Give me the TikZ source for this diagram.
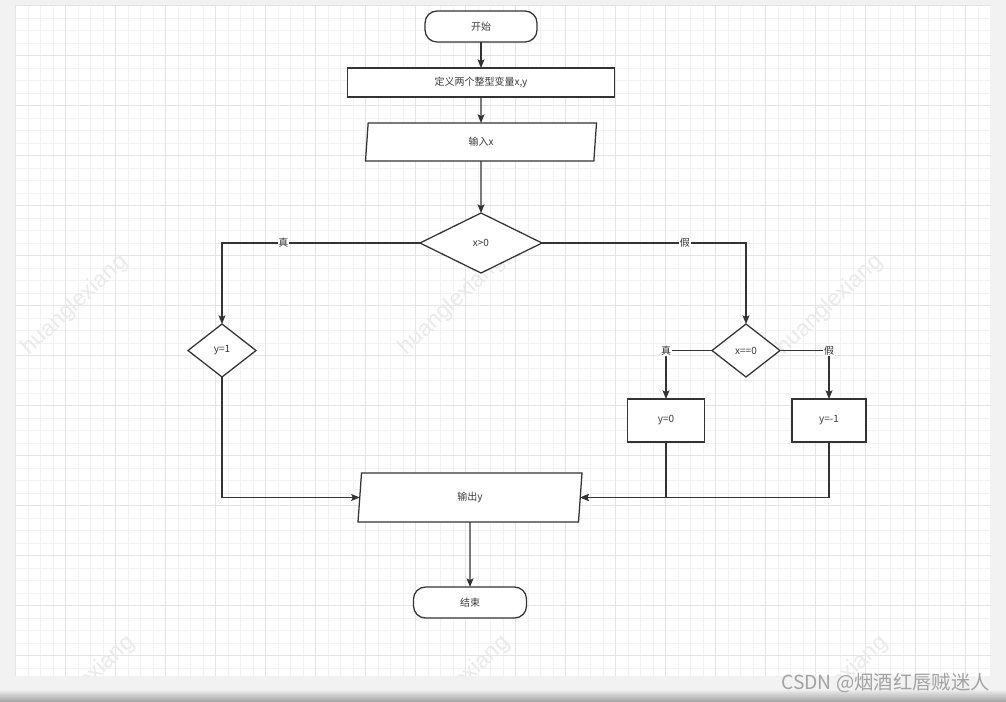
\documentclass[tikz,border=0pt]{standalone}
\usepackage{fontspec}
\newfontfamily\cjk{Noto Sans CJK SC}
\newfontfamily\wmfont{Liberation Sans}
\usetikzlibrary{arrows.meta,shapes.geometric,calc}
\definecolor{ink}{HTML}{333333}
\definecolor{txt}{HTML}{3A3A3A}
\definecolor{pagebg}{HTML}{F2F2F2}
\definecolor{gridminor}{HTML}{F2F2F2}
\definecolor{gridmajor}{HTML}{E4E4E4}
\definecolor{wmcol}{HTML}{EAEAEA}
\definecolor{csdncol}{HTML}{A2A2A2}
\tikzset{
  shapeline/.style={draw=ink, line width=0.95pt, fill=white, inner sep=0pt, outer sep=0pt,
    text=txt, font=\cjk\fontsize{7.5pt}{9pt}\selectfont},
  term/.style={shapeline, rectangle, rounded corners=9pt},
  procbox/.style={shapeline, rectangle},
  iobox/.style={shapeline, trapezium, trapezium stretches body=true},
  decbox/.style={shapeline, diamond},
  arr/.style={draw=ink, line width=0.95pt, -{Stealth[length=6.5pt,width=5.2pt,inset=1.3pt]}},
  lbl/.style={fill=white, inner sep=0.6pt, text=ink, font=\cjk\fontsize{7.5pt}{9pt}\selectfont},
  minorline/.style={draw=gridminor, line width=0.75pt},
  majorline/.style={draw=gridmajor, line width=0.75pt},
  wmtext/.style={text=wmcol, rotate=43, font=\wmfont\fontsize{17pt}{20pt}\selectfont},
}
\begin{document}
\begin{tikzpicture}[x=0.75pt,y=-0.75pt]
\useasboundingbox (0,0) rectangle (1006,701);
\fill[pagebg] (0,0) rectangle (1006,701);
\shade[top color=pagebg, bottom color=black!35] (0,689) rectangle (1006,701);
\fill[white] (16,5) rectangle (991,676);
% grid
\foreach \i in {0,...,78} {
  \draw[minorline] ({15.7+12.5*\i},5) -- ({15.7+12.5*\i},676);
}
\foreach \j in {0,...,53} {
  \draw[minorline] (16,{5.7+12.5*\j}) -- (991,{5.7+12.5*\j});
}
\foreach \i in {0,...,19} {
  \draw[majorline] ({15.7+50*\i},5) -- ({15.7+50*\i},676);
}
\foreach \j in {0,...,13} {
  \draw[majorline] (16,{5.7+50*\j}) -- (991,{5.7+50*\j});
}
% watermarks
\begin{scope}
\clip (16,5) rectangle (991,676);
\foreach \a/\b [count=\k] in {75/305,452/305,830/305,82/686,457/686,835/686} {
  \node[wmtext] (wm\k) at (\a,\b) {huanglexiang};
}
\end{scope}
% nodes
\node[term, minimum width=112*0.75pt, minimum height=31*0.75pt] (start) at (481,26.5) {开始};
\node[procbox, minimum width=267*0.75pt, minimum height=29*0.75pt] (def) at (481,82.5) {定义两个整型变量x,y};
\node[iobox, trapezium left angle=73.9, trapezium right angle=106.1,
      minimum width=231*0.75pt, minimum height=38*0.75pt] (in) at (481,142) {输入x};
\node[decbox, minimum width=122*0.75pt, minimum height=60*0.75pt] (d1) at (481,243) {x>0};
\node[decbox, minimum width=68*0.75pt, minimum height=53*0.75pt] (dy1) at (222,350.5) {y=1};
\node[decbox, minimum width=68*0.75pt, minimum height=53*0.75pt] (d2) at (746,350.5) {x==0};
\node[procbox, minimum width=77*0.75pt, minimum height=43*0.75pt] (b0) at (666,420.5) {y=0};
\node[procbox, minimum width=74*0.75pt, minimum height=43*0.75pt] (bm1) at (829,420.5) {y=-1};
\node[iobox, trapezium left angle=71.9, trapezium right angle=108.1,
      minimum width=224*0.75pt, minimum height=49*0.75pt] (out) at (470,497.5) {输出y};
\node[term, minimum width=113*0.75pt, minimum height=31*0.75pt] (end) at (470,602.5) {结束};
% connectors
\draw[arr] (start.south) -- (def.north);
\draw[arr] (def.south) -- (in.north);
\draw[arr] (in.south) -- (d1.north);
\draw[arr] (d1.west) -| node[lbl,pos=0.345]{真} (dy1.north);
\draw[arr] (d1.east) -| node[lbl,pos=0.35]{假} (d2.north);
\draw[arr] (d2.west) -| node[lbl,pos=0.5]{真} (b0.north);
\draw[arr] (d2.east) -| node[lbl,pos=0.5]{假} (bm1.north);
\draw[arr] (dy1.south) |- (out.west);
\draw[arr] (b0.south) |- (out.east);
\draw[arr] (bm1.south) |- (out.east);
\draw[arr] (out.south) -- (end.north);
% CSDN watermark
\node[anchor=east, inner sep=0pt, text=csdncol, font=\cjk\fontsize{14.5pt}{16pt}\selectfont] (csdn) at (990,683) {CSDN @烟酒红唇贼迷人};
\end{tikzpicture}
\end{document}
